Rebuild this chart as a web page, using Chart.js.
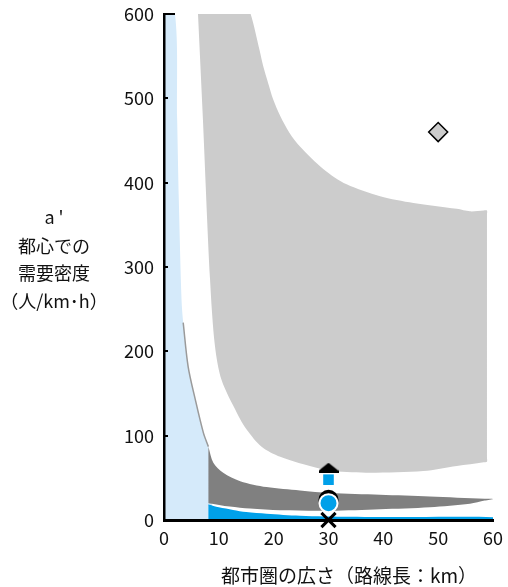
<!DOCTYPE html>
<html><head><meta charset="utf-8">
<script src="https://cdn.jsdelivr.net/npm/chart.js@4/dist/chart.umd.min.js"></script>
<style>html,body{margin:0;padding:0;background:#fff;}canvas{display:block;}</style>
</head><body>
<canvas id="c" width="508" height="587"></canvas>
<script>
// ---- tick labels ----
const xTicks = [0, 10, 20, 30, 40, 50, 60];
const yTicks = [0, 100, 200, 300, 400, 500, 600];
const xTitle = "都市圏の広さ（路線長：km）";
const yTitleLines = ["a '", "都心での", "需要密度", "（人/km･h）"];

// ---- region outlines (data units: x = km, y = 人/km･h) ----
const lightBlueX = [0, 2.0, 2.4, 2.7, 3.2, 3.5, 4.4, 5.7, 7.2, 8.1, 8.1, 0];
const lightBlueY = [600, 600, 475, 380, 261, 234, 182, 143, 103, 87, 0, 0];

const lightGrayX = [6.2, 15.3, 15.8, 17.4, 18.1, 19.0, 19.9, 21.2, 22.9, 24.8, 29.1, 33.3, 39.4, 45.5, 53.4, 55.8, 58.3, 58.9, 58.9,
                    58.9, 58.9, 58.3, 53.4, 47.3, 37.6, 30.9, 26.6, 21.2, 17.8, 15.1, 13.3, 10.5, 9.3, 8.4, 7.1];
const lightGrayY = [600, 600, 600, 558, 538, 518, 499, 479, 459, 443, 416, 398, 384, 376, 369, 366, 367, 367, 362,
                    74, 69, 68.5, 64, 58, 56, 58, 64, 75, 87, 107, 127, 166, 206, 285, 475];

const darkGrayX = [8.1, 9.0, 10.8, 13.9, 18.7, 24.8, 30.3, 39.4, 48.5, 58.5, 60, 58.5, 55.8, 48.5, 39.4, 30.3, 21.2, 15.7, 12, 8.1];
const darkGrayY = [87, 68, 56, 46, 39, 35, 32, 30, 28, 25.3, 25, 23, 19.3, 15.2, 12.8, 11, 11.5, 13.5, 16, 20];

const blueX = [8.1, 8.1, 8.1, 10, 12.6, 15, 18.7, 24.8, 33.9, 45, 60, 60];
const blueY = [0, 17, 18.5, 15, 12, 9.5, 7.5, 5.1, 3.8, 3.5, 3.3, 0];

const edgeX = [3.5, 4.4, 5.7, 7.2, 8.1];
const edgeY = [234, 182, 143, 103, 87];

// ---- point markers ----
const markerX = 30;
const triangleY = 62;
const squareY = 47.8;
const blackCircleY = 24;
const blueCircleY = 20;
const crossY = 0;
const diamondX = 50;
const diamondY = 460;

const pts = (xs, ys) => xs.map((x, i) => ({x, y: ys[i]}));

function flatTriangle() {
  const c = document.createElement('canvas');
  c.width = 20; c.height = 10;
  const g = c.getContext('2d');
  g.fillStyle = '#000';
  g.beginPath(); g.moveTo(10, 0); g.lineTo(20, 8); g.lineTo(20, 10); g.lineTo(0, 10); g.lineTo(0, 8); g.closePath(); g.fill();
  return c;
}

const shape = (data, color, order) => ({
  data, backgroundColor: color, borderWidth: 0, pointRadius: 0, fill: 'shape', tension: 0.3, order
});
const marker = (x, y, opts, order) => Object.assign({
  data: [{x, y}], showLine: false, clip: false, order
}, opts);

const FONT = '"Noto Sans CJK JP", "Noto Sans", sans-serif';

const textPlugin = {
  id: 'textPlugin',
  afterDraw(chart) {
    const {ctx, chartArea, scales: {y}} = chart;
    ctx.save();
    ctx.strokeStyle = '#000';
    ctx.lineWidth = 2;
    yTicks.forEach(v => {
      if (v === 0) return;
      const py = Math.round(y.getPixelForValue(v));
      ctx.beginPath();
      ctx.moveTo(chartArea.left, py);
      ctx.lineTo(chartArea.left + (v === 600 ? 11 : 4), py);
      ctx.stroke();
    });
    ctx.fillStyle = '#111';
    ctx.font = '18px ' + FONT;
    ctx.textAlign = 'center';
    ctx.textBaseline = 'middle';
    const ys = [217, 246, 273, 301];
    yTitleLines.forEach((t, i) => ctx.fillText(t, 54, ys[i]));
    ctx.font = '19px ' + FONT;
    ctx.fillText(xTitle, 349, 576);
    ctx.restore();
  }
};

new Chart(document.getElementById('c'), {
  type: 'line',
  data: {
    datasets: [
      marker(markerX, crossY, {pointStyle: 'crossRot', pointRadius: 10, borderColor: '#000', borderWidth: 3}, 0),
      marker(markerX, blueCircleY, {pointStyle: 'circle', pointRadius: 9, backgroundColor: '#00a0e9', borderColor: '#fff', borderWidth: 2}, 0),
      marker(markerX, blackCircleY, {pointStyle: 'circle', pointRadius: 10, backgroundColor: '#000', borderColor: '#000', borderWidth: 0}, 1),
      marker(markerX, squareY, {pointStyle: 'rect', pointRadius: 7.5, backgroundColor: '#00a0e9', borderWidth: 0}, 0),
      marker(markerX, triangleY, {pointStyle: flatTriangle(), pointRadius: 10}, 1),
      marker(diamondX, diamondY, {pointStyle: 'rectRot', pointRadius: 9.5, backgroundColor: '#cccccc', borderColor: '#000', borderWidth: 1.5}, 0),
      {data: pts(edgeX, edgeY), borderColor: '#9a9a9a', borderWidth: 1.5, pointRadius: 0, fill: false, tension: 0.3, order: 4},
      shape(pts(blueX, blueY), '#00a0e9', 5),
      shape(pts(darkGrayX, darkGrayY), '#808080', 5),
      shape(pts(lightBlueX, lightBlueY), '#d5eafa', 6),
      shape(pts(lightGrayX, lightGrayY), '#cccccc', 7)
    ]
  },
  options: {
    responsive: false,
    animation: false,
    layout: {padding: {top: 14, right: 15, left: 0, bottom: 0}},
    plugins: {legend: {display: false}, tooltip: {enabled: false}},
    scales: {
      x: {
        type: 'linear', min: 0, max: 60,
        afterBuildTicks: s => { s.ticks = xTicks.map(v => ({value: v})); },
        afterFit: s => { s.height = 67; s.paddingLeft = 0; s.paddingRight = 0; },
        grid: {display: false, drawTicks: false},
        border: {display: true, color: '#000', width: 3, z: 1},
        ticks: {padding: 7, color: '#111', font: {family: FONT, size: 18}}
      },
      y: {
        type: 'linear', min: 0, max: 600,
        afterBuildTicks: s => { s.ticks = yTicks.map(v => ({value: v})); },
        afterFit: s => { s.width = 164; s.paddingTop = 0; s.paddingBottom = 0; },
        grid: {display: false, drawTicks: false},
        border: {display: true, color: '#000', width: 2.5, z: 1},
        ticks: {padding: 10, color: '#111', font: {family: FONT, size: 18}}
      }
    }
  },
  plugins: [textPlugin]
});
</script>
</body></html>
